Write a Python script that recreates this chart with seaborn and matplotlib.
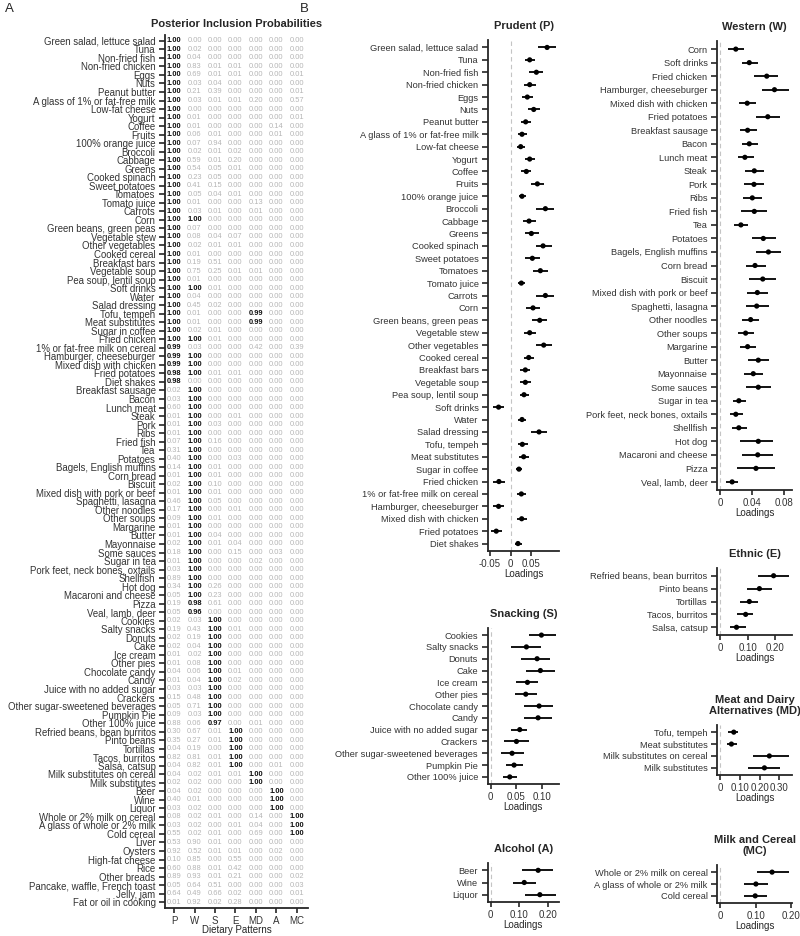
import numpy as np
import pandas as pd
import seaborn as sns
import matplotlib.pyplot as plt
from matplotlib.ticker import FuncFormatter

# ---------------- panel A: posterior inclusion probabilities ----------------
foods = ["Green salad, lettuce salad", "Tuna", "Non-fried fish", "Non-fried chicken", "Eggs", "Nuts",
         "Peanut butter", "A glass of 1% or fat-free milk", "Low-fat cheese", "Yogurt", "Coffee", "Fruits",
         "100% orange juice", "Broccoli", "Cabbage", "Greens", "Cooked spinach", "Sweet potatoes",
         "Tomatoes", "Tomato juice", "Carrots", "Corn", "Green beans, green peas", "Vegetable stew",
         "Other vegetables", "Cooked cereal", "Breakfast bars", "Vegetable soup", "Pea soup, lentil soup",
         "Soft drinks", "Water", "Salad dressing", "Tofu, tempeh", "Meat substitutes", "Sugar in coffee",
         "Fried chicken", "1% or fat-free milk on cereal", "Hamburger, cheeseburger",
         "Mixed dish with chicken", "Fried potatoes", "Diet shakes", "Breakfast sausage", "Bacon",
         "Lunch meat", "Steak", "Pork", "Ribs", "Fried fish", "Tea", "Potatoes", "Bagels, English muffins",
         "Corn bread", "Biscuit", "Mixed dish with pork or beef", "Spaghetti, lasagna", "Other noodles",
         "Other soups", "Margarine", "Butter", "Mayonnaise", "Some sauces", "Sugar in tea",
         "Pork feet, neck bones, oxtails", "Shellfish", "Hot dog", "Macaroni and cheese", "Pizza",
         "Veal, lamb, deer", "Cookies", "Salty snacks", "Donuts", "Cake", "Ice cream", "Other pies",
         "Chocolate candy", "Candy", "Juice with no added sugar", "Crackers",
         "Other sugar-sweetened beverages", "Pumpkin Pie", "Other 100% juice",
         "Refried beans, bean burritos", "Pinto beans", "Tortillas", "Tacos, burritos", "Salsa, catsup",
         "Milk substitutes on cereal", "Milk substitutes", "Beer", "Wine", "Liquor",
         "Whole or 2% milk on cereal", "A glass of whole or 2% milk", "Cold cereal", "Liver", "Oysters",
         "High-fat cheese", "Rice", "Other breads", "Pancake, waffle, French toast", "Jelly, jam",
         "Fat or oil in cooking"]

pip_P = [1.00] * 36 + [0.99, 0.99, 0.99, 0.98, 0.98,
         0.02, 0.03, 0.60, 0.01, 0.01, 0.01, 0.07, 0.31, 0.40,
         0.14, 0.01, 0.02, 0.01, 0.46, 0.17, 0.09, 0.01, 0.01, 0.02,
         0.18, 0.01, 0.03, 0.89, 0.34, 0.05, 0.19, 0.05, 0.02, 0.19,
         0.02, 0.02, 0.01, 0.01, 0.04, 0.01, 0.03, 0.15, 0.05, 0.09,
         0.88, 0.30, 0.35, 0.04, 0.82, 0.04, 0.04, 0.02, 0.04, 0.40,
         0.03, 0.08, 0.03, 0.55, 0.53, 0.92, 0.10, 0.60, 0.89, 0.05,
         0.64, 0.01]
pip_W = [0.00, 0.02, 0.04, 0.83, 0.69, 0.03, 0.21, 0.03, 0.00, 0.01,
         0.01, 0.06, 0.07, 0.02, 0.59, 0.54, 0.23, 0.41, 0.05, 0.01,
         0.03, 1.00, 0.07, 0.08, 0.02, 0.01, 0.19, 0.75, 0.01, 1.00,
         0.04, 0.45, 0.01, 0.01, 0.02, 1.00, 0.03, 1.00, 1.00, 1.00,
         0.00] + [1.00] * 25 + [0.98, 0.96,
         0.03, 0.43, 0.19, 0.04, 0.02, 0.08, 0.06, 0.04, 0.03, 0.48, 0.71, 0.03,
         0.06, 0.67, 0.27, 0.19, 0.81, 0.82, 0.02, 0.02, 0.02, 0.01,
         0.02, 0.02, 0.02, 0.02, 0.90, 0.52, 0.85, 0.88, 0.93, 0.64,
         0.49, 0.92]
pip_S = [0.00, 0.00, 0.00, 0.01, 0.01, 0.04, 0.39, 0.01, 0.00, 0.00,
         0.00, 0.01, 0.94, 0.01, 0.01, 0.05, 0.05, 0.15, 0.04, 0.00,
         0.01, 0.00, 0.00, 0.04, 0.01, 0.00, 0.51, 0.25, 0.00, 0.01,
         0.00, 0.02, 0.00, 0.00, 0.01, 0.01, 0.00, 0.00, 0.00, 0.01,
         0.00, 0.00, 0.00, 0.00, 0.00, 0.03, 0.00, 0.16, 0.00, 0.00,
         0.01, 0.01, 0.10, 0.01, 0.05, 0.00, 0.01, 0.00, 0.04, 0.01,
         0.00, 0.00, 0.00, 0.00, 0.26, 0.23, 0.61, 0.00, 1.00, 1.00] + [1.00] * 10 + [0.97,
         0.01, 0.01, 0.00, 0.01, 0.01, 0.01, 0.00, 0.00, 0.00,
         0.00, 0.01, 0.00, 0.01, 0.01, 0.01, 0.00, 0.01, 0.01, 0.51,
         0.66, 0.02]
pip_E = [0.00, 0.00, 0.00, 0.01, 0.01, 0.00, 0.00, 0.01, 0.00, 0.00,
         0.00, 0.00, 0.00, 0.02, 0.20, 0.01, 0.00, 0.00, 0.01, 0.00,
         0.00, 0.00, 0.00, 0.07, 0.01, 0.00, 0.00, 0.01, 0.00, 0.00,
         0.00, 0.00, 0.00, 0.00, 0.00, 0.00, 0.00, 0.00, 0.00, 0.01,
         0.00, 0.00, 0.00, 0.00, 0.01, 0.00, 0.00, 0.00, 0.00, 0.03,
         0.00, 0.00, 0.00, 0.00, 0.00, 0.01, 0.00, 0.00, 0.00, 0.04,
         0.15, 0.00, 0.00, 0.00, 0.00, 0.00, 0.00, 0.00, 0.00, 0.01,
         0.00, 0.00, 0.00, 0.00, 0.01, 0.02, 0.00, 0.00, 0.00, 0.00,
         0.00, 1.00, 1.00, 1.00, 1.00, 1.00, 0.01, 0.00, 0.00, 0.00,
         0.00, 0.00, 0.01, 0.00, 0.00, 0.01, 0.55, 0.42, 0.21, 0.00,
         0.02, 0.28]
pip_MD = [0.00] * 7 + [0.20, 0.00, 0.00,
          0.00, 0.00, 0.00, 0.00, 0.00, 0.00, 0.00, 0.00, 0.00, 0.13,
          0.01, 0.00, 0.00, 0.00, 0.00, 0.00, 0.00, 0.01, 0.00, 0.00,
          0.00, 0.00, 0.99, 0.99, 0.00, 0.00, 0.42, 0.00, 0.00, 0.00] + [0.00] * 21 + [0.02] + [0.00] * 18 + [
          0.01, 0.00, 0.00, 0.00, 0.00, 0.00, 1.00, 1.00, 0.00, 0.00,
          0.00, 0.14, 0.04, 0.69, 0.00, 0.00, 0.00, 0.00, 0.00, 0.00,
          0.00, 0.00]
pip_A = [0.00] * 10 + [0.14, 0.01] + [0.00] * 48 + [0.03] + [0.00] * 24 + [0.01, 0.00, 0.00,
         1.00, 1.00, 1.00, 0.00, 0.00, 0.00, 0.00, 0.02, 0.00, 0.00, 0.00, 0.00, 0.00, 0.00]
pip_MC = [0.00, 0.00, 0.00, 0.00, 0.01, 0.00, 0.01, 0.57, 0.00, 0.01] + [0.00] * 26 + [0.39] + [0.00] * 54 + [
          1.00, 1.00, 1.00, 0.00, 0.00, 0.00, 0.00, 0.02, 0.03, 0.01, 0.00]

patterns = ["P", "W", "S", "E", "MD", "A", "MC"]

# ---------------- panel B: loadings (estimate and interval) ----------------
prudent_est = [0.0878, 0.0459, 0.0620, 0.0459, 0.0402, 0.0556, 0.0362, 0.0274, 0.0242, 0.0459,
               0.0378, 0.0644, 0.0274, 0.0837, 0.0443, 0.0499, 0.0781, 0.0523, 0.0716, 0.0258,
               0.0837, 0.0539, 0.0700, 0.0459, 0.0797, 0.0435, 0.0354, 0.0354, 0.0322, -0.0290,
               0.0274, 0.0684, 0.0282, 0.0314, 0.0201, -0.0282, 0.0258, -0.0290, 0.0266, -0.0346,
               0.0177]
prudent_lo = [0.0660, 0.0338, 0.0443, 0.0322, 0.0282, 0.0419, 0.0242, 0.0177, 0.0161, 0.0338,
              0.0258, 0.0483, 0.0193, 0.0620, 0.0298, 0.0338, 0.0604, 0.0354, 0.0539, 0.0177,
              0.0620, 0.0378, 0.0523, 0.0322, 0.0604, 0.0314, 0.0233, 0.0217, 0.0217, -0.0427,
              0.0177, 0.0499, 0.0177, 0.0193, 0.0121, -0.0427, 0.0153, -0.0427, 0.0153, -0.0467,
              0.0097]
prudent_hi = [0.1087, 0.0596, 0.0781, 0.0604, 0.0539, 0.0716, 0.0499, 0.0402, 0.0338, 0.0596,
              0.0499, 0.0805, 0.0378, 0.1039, 0.0620, 0.0676, 0.1006, 0.0700, 0.0902, 0.0354,
              0.1039, 0.0700, 0.0885, 0.0620, 0.0998, 0.0556, 0.0475, 0.0499, 0.0435, -0.0169,
              0.0378, 0.0878, 0.0419, 0.0435, 0.0282, -0.0145, 0.0378, -0.0169, 0.0394, -0.0201,
              0.0274]

western_est = [0.0193, 0.0362, 0.0581, 0.0678, 0.0336, 0.0594, 0.0341, 0.0362, 0.0307, 0.0425, 0.0421,
               0.0400, 0.0425, 0.0257, 0.0538, 0.0602, 0.0434, 0.0531, 0.0463, 0.0455, 0.0379, 0.0316,
               0.0341, 0.0475, 0.0412, 0.0475, 0.0231, 0.0193, 0.0231, 0.0475, 0.0468, 0.0446, 0.0147]
western_lo = [0.0096, 0.0265, 0.0425, 0.0526, 0.0235, 0.0442, 0.0244, 0.0265, 0.0215, 0.0307, 0.0298,
              0.0286, 0.0253, 0.0168, 0.0392, 0.0442, 0.0316, 0.0362, 0.0329, 0.0316, 0.0273, 0.0215,
              0.0244, 0.0349, 0.0295, 0.0316, 0.0152, 0.0118, 0.0147, 0.0244, 0.0273, 0.0202, 0.0067]
western_hi = [0.0298, 0.0468, 0.0728, 0.0855, 0.0446, 0.0741, 0.0455, 0.0468, 0.0421, 0.0547, 0.0551,
              0.0518, 0.0581, 0.0341, 0.0695, 0.0762, 0.0569, 0.0699, 0.0602, 0.0611, 0.0488, 0.0421,
              0.0446, 0.0614, 0.0538, 0.0632, 0.0320, 0.0278, 0.0329, 0.0657, 0.0657, 0.0686, 0.0215]

snack_est = [0.0986, 0.0694, 0.0902, 0.0966, 0.0714, 0.0681, 0.0941, 0.0921, 0.0564, 0.0500, 0.0415, 0.0454, 0.0370]
snack_lo = [0.0740, 0.0389, 0.0584, 0.0694, 0.0500, 0.0467, 0.0649, 0.0649, 0.0389, 0.0253, 0.0208, 0.0305, 0.0240]
snack_hi = [0.1265, 0.0973, 0.1161, 0.1245, 0.0921, 0.0902, 0.1213, 0.1194, 0.0714, 0.0740, 0.0649, 0.0629, 0.0512]

alcohol_est = [0.167, 0.118, 0.173]
alcohol_lo = [0.111, 0.079, 0.120]
alcohol_hi = [0.220, 0.158, 0.229]

ethnic_est = [0.195, 0.143, 0.106, 0.0925, 0.059]
ethnic_lo = [0.139, 0.098, 0.071, 0.061, 0.034]
ethnic_hi = [0.250, 0.189, 0.139, 0.121, 0.0925]

md_est = [0.068, 0.056, 0.249, 0.224]
md_lo = [0.039, 0.031, 0.164, 0.142]
md_hi = [0.090, 0.085, 0.347, 0.301]

mc_est = [0.147, 0.101, 0.099]
mc_lo = [0.104, 0.067, 0.068]
mc_hi = [0.194, 0.135, 0.133]

# ---------------------------------------------------------------------------
sns.set_theme(style="ticks")
plt.rcParams["font.family"] = ["Liberation Sans", "DejaVu Sans"]
plt.rcParams["axes.linewidth"] = 1.3
plt.rcParams["xtick.major.width"] = 1.2
plt.rcParams["ytick.major.width"] = 1.2
plt.rcParams["xtick.major.size"] = 3.8
plt.rcParams["ytick.major.size"] = 4.2
plt.rcParams["xtick.major.pad"] = 2.0
plt.rcParams["ytick.major.pad"] = 2.6

TXT = "#333333"
W_PX, H_PX = 800, 936
fig = plt.figure(figsize=(8, 9.36), dpi=100)


def px_axes(l, t, r, b):
    return fig.add_axes([l / W_PX, 1 - b / H_PX, (r - l) / W_PX, (b - t) / H_PX])


def zero_fmt(v, _):
    return "0" if abs(v) < 1e-9 else f"{v:.2f}"


tab = pd.DataFrame({"food": foods, "P": pip_P, "W": pip_W, "S": pip_S, "E": pip_E,
                    "MD": pip_MD, "A": pip_A, "MC": pip_MC})

# ---- A ----
axA = px_axes(165, 35, 308, 908)
n = len(foods)
long = tab.melt(id_vars="food", var_name="pattern", value_name="pip")
long["x"] = long["pattern"].map({p: i for i, p in enumerate(patterns)})
long["y"] = long["food"].map({f: i for i, f in enumerate(foods)})
for _, r in long.iterrows():
    hi = r["pip"] >= 0.95
    axA.text(r["x"], r["y"], f"{r['pip']:.2f}", ha="center", va="center", fontsize=5.4,
             fontweight="bold" if hi else "normal", color="#111111" if hi else "#b5b5b5")
axA.set_xlim(-0.44, 6.54)
axA.set_ylim(n - 1 + 0.68, -0.68)
axA.set_xticks(range(len(patterns)))
axA.set_xticklabels(patterns, fontsize=7, color=TXT)
axA.set_yticks(range(n))
axA.set_yticklabels(foods, fontsize=6.9, color=TXT)
axA.set_xlabel("Dietary Patterns", fontsize=7, labelpad=-0.5)
axA.set_title("Posterior Inclusion Probabilities", fontsize=8, fontweight="bold", pad=6)
sns.despine(ax=axA)


# ---- B ----
def forest(box, pat, est, lo, hi, title, ticks):
    ax = px_axes(*box)
    items = list(tab.loc[tab[pat] >= 0.95, "food"])
    d = pd.DataFrame({"item": items, "est": est, "lo": lo, "hi": hi})
    d["y"] = np.arange(len(d))
    ax.axvline(0, color="#c4c4c4", lw=0.8, ls=(0, (4, 3)), zorder=0)
    ax.hlines(d["y"], d["lo"], d["hi"], color="black", lw=1.3)
    sns.scatterplot(data=d, x="est", y="y", ax=ax, color="black", s=14, edgecolor="none", zorder=3)
    a = min(0, d["lo"].min())
    b = max(0, d["hi"].max())
    pad = 0.05 * (b - a)
    ax.set_xlim(a - pad, b + pad)
    ax.set_ylim(len(d) - 1 + 0.6, -0.6)
    ax.set_yticks(d["y"])
    ax.set_yticklabels(d["item"], fontsize=6.7, color=TXT)
    ax.set_xticks(ticks)
    ax.xaxis.set_major_formatter(FuncFormatter(zero_fmt))
    ax.tick_params(axis="x", labelsize=7, labelcolor=TXT)
    ax.set_xlabel("Loadings", fontsize=7, labelpad=0)
    ax.set_ylabel("")
    ax.set_title(title, fontsize=8, fontweight="bold", pad=8, linespacing=1.1)
    sns.despine(ax=ax)
    return ax


forest((488, 40, 559, 551), "P", prudent_est, prudent_lo, prudent_hi, "Prudent (P)", [-0.05, 0, 0.05])
forest((717, 41, 792, 490), "W", western_est, western_lo, western_hi, "Western (W)", [0, 0.04, 0.08])
forest((487.5, 628, 559, 784), "S", snack_est, snack_lo, snack_hi, "Snacking (S)", [0, 0.05, 0.10])
forest((487.5, 863, 559, 902), "A", alcohol_est, alcohol_lo, alcohol_hi, "Alcohol (A)", [0, 0.10, 0.20])
forest((717, 568, 792, 635), "E", ethnic_est, ethnic_lo, ethnic_hi, "Ethnic (E)", [0, 0.10, 0.20])
forest((717, 725, 792, 775), "MD", md_est, md_lo, md_hi, "Meat and Dairy\nAlternatives (MD)", [0, 0.10, 0.20, 0.30])
forest((717, 865, 792, 903), "MC", mc_est, mc_lo, mc_hi, "Milk and Cereal\n(MC)", [0, 0.10, 0.20])

fig.text(5 / W_PX, 1 - 9 / H_PX, "A", fontsize=9.5, va="center", ha="left")
fig.text(300 / W_PX, 1 - 9 / H_PX, "B", fontsize=9.5, va="center", ha="left")

fig.savefig("out.png", dpi=100)
